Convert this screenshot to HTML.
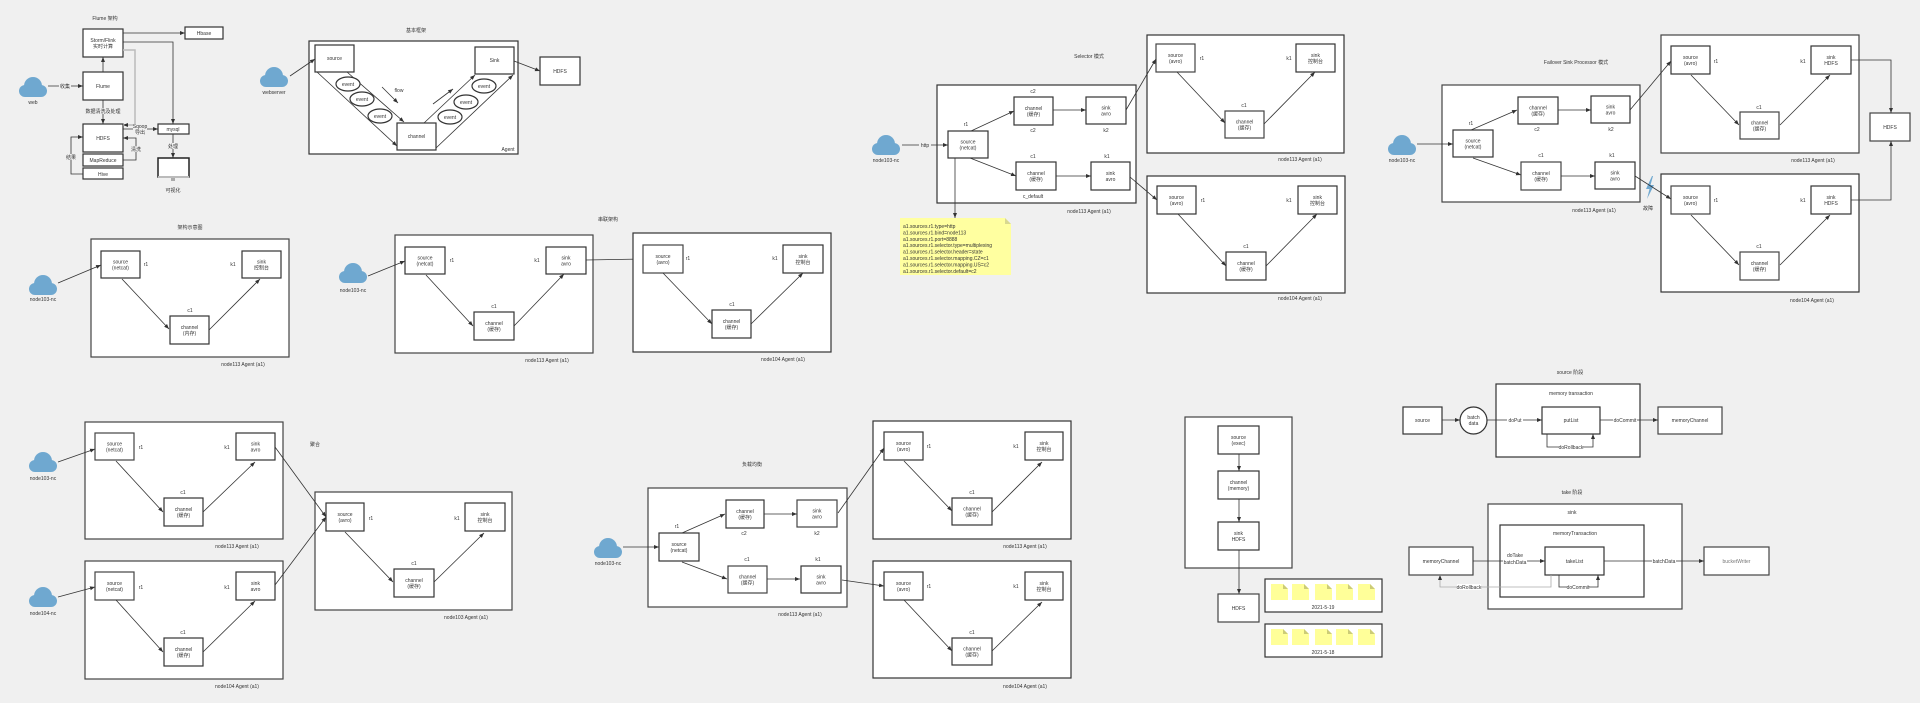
<!DOCTYPE html>
<html><head><meta charset="utf-8"><style>
html,body{margin:0;padding:0;background:#f0f0f0;width:1920px;height:703px;overflow:hidden}
svg{display:block}
text{font-family:"Liberation Sans","Noto Sans CJK SC",sans-serif;font-size:5px;fill:#333;text-anchor:middle}
.b{fill:#fff;stroke:#333;stroke-width:1.2}
.g{fill:#fff;stroke:#444;stroke-width:1.2}
.c{fill:none;stroke:#333;stroke-width:0.8}
.bg{fill:#f0f0f0}
.cl{fill:#6fa8d0}
.l{text-anchor:start}
</style></head><body>
<svg width="1920" height="703" viewBox="0 0 1920 703" xmlns="http://www.w3.org/2000/svg">
<defs>
<marker id="a" viewBox="0 0 10 10" refX="10" refY="5" markerWidth="5" markerHeight="5" markerUnits="userSpaceOnUse" orient="auto"><path d="M0,1 L10,5 L0,9 z" fill="#333"/></marker>
<g id="cloud"><circle cx="-8" cy="4" r="6"/><circle cx="8" cy="4" r="6"/><circle cx="0" cy="-1" r="9"/><rect x="-8" y="3" width="16" height="7"/></g>
<g id="doc"><path d="M0,0 h12 l5,5 v11 h-17 z" fill="#ffff99"/><path d="M12,0 l5,5 h-5 z" fill="#cccc77"/></g>
</defs>

<!-- ===== A: Flume 架构 ===== -->
<text x="105" y="20">Flume 架构</text>
<rect class="b" x="83" y="29" width="40" height="28"/><text x="103" y="42">Storm/Flink</text><text x="103" y="48">实时计算</text>
<rect class="b" x="185" y="27" width="38" height="12"/><text x="204" y="35">Hbase</text>
<path class="c" d="M123,33 H185" marker-end="url(#a)"/>
<rect class="b" x="83" y="72" width="40" height="28"/><text x="103" y="88">Flume</text>
<use href="#cloud" x="33" y="87" class="cl"/><text x="33" y="104">web</text>
<path class="c" d="M48,86 H83" marker-end="url(#a)"/><rect class="bg" x="59" y="83" width="12" height="6"/><text x="65" y="88">收集</text>
<path class="c" d="M103,72 V57" marker-end="url(#a)"/>
<rect class="b" x="83" y="124" width="40" height="28"/><text x="103" y="140">HDFS</text>
<path class="c" d="M103,100 V124" marker-end="url(#a)"/><rect class="bg" x="86" y="108" width="34" height="6"/><text x="103" y="113">数据清洗及处理</text>
<rect class="b" x="83" y="154" width="40" height="12"/><text x="103" y="162">MapReduce</text>
<rect class="b" x="83" y="168" width="40" height="11"/><text x="103" y="176">Hive</text>
<path class="c" d="M83,174 H71 V137 H83" marker-end="url(#a)"/><rect class="bg" x="65" y="154" width="12" height="6"/><text x="71" y="159">结果</text>
<path class="c" d="M123,160 H136 V138 H123" marker-end="url(#a)"/><rect class="bg" x="130" y="146" width="12" height="6"/><text x="136" y="151">清洗</text>
<path d="M123,50 H135 V125 H123" fill="none" stroke="#bbb" stroke-width="1.5" marker-end="url(#a)"/>
<path class="c" d="M123,42 H173 V124" marker-end="url(#a)"/>
<rect class="b" x="158" y="124" width="31" height="10"/><text x="173" y="131">mysql</text>
<path class="c" d="M123,129 H158" marker-end="url(#a)"/><rect class="bg" x="133" y="124" width="14" height="11"/><text x="140" y="128">Sqoop</text><text x="140" y="134">导出</text>
<path class="c" d="M173,134 V158" marker-end="url(#a)"/><rect class="bg" x="167" y="143" width="12" height="6"/><text x="173" y="148">处理</text>
<rect x="158" y="158" width="31" height="19" fill="#fff" stroke="#222" stroke-width="1.5"/><rect x="158" y="176" width="31" height="2" fill="#bbb"/><rect x="171" y="178" width="4" height="3" fill="#aaa"/>
<text x="173" y="192">可视化</text>

<!-- ===== B: 基本框架 ===== -->
<text x="416" y="32">基本框架</text>
<rect class="b" x="309" y="41" width="209" height="113"/><text x="508" y="151">Agent</text>
<rect class="b" x="315" y="45" width="39" height="27"/><text x="334.5" y="60">source</text>
<rect class="b" x="475" y="47" width="39" height="27"/><text x="494.5" y="62">Sink</text>
<rect class="b" x="397" y="123" width="39" height="27"/><text x="416.5" y="138">channel</text>
<rect class="b" x="540" y="57" width="40" height="28"/><text x="560" y="73">HDFS</text>
<use href="#cloud" x="274" y="77" class="cl"/><text x="274" y="94">webserver</text>
<path class="c" d="M290,76 L315,59" marker-end="url(#a)"/>
<path class="c" d="M317,72 L397,146" marker-end="url(#a)"/>
<path class="c" d="M347,72 L404,122" marker-end="url(#a)"/>
<ellipse class="b" cx="348" cy="84" rx="12" ry="7"/><text x="348" y="86">event</text>
<ellipse class="b" cx="362" cy="99" rx="12" ry="7"/><text x="362" y="101">event</text>
<ellipse class="b" cx="380" cy="116" rx="12" ry="7"/><text x="380" y="118">event</text>
<path class="c" d="M382,87 L398,103" marker-end="url(#a)"/><text x="399" y="92">flow</text>
<path class="c" d="M424,123 L475,75" marker-end="url(#a)"/>
<path class="c" d="M436,148 L513,75" marker-end="url(#a)"/>
<ellipse class="b" cx="484" cy="86" rx="12" ry="7"/><text x="484" y="88">event</text>
<ellipse class="b" cx="466" cy="102" rx="12" ry="7"/><text x="466" y="104">event</text>
<ellipse class="b" cx="450" cy="117" rx="12" ry="7"/><text x="450" y="119">event</text>
<path class="c" d="M433,104 L453,89" marker-end="url(#a)"/>
<path class="c" d="M514,61 L540,71" marker-end="url(#a)"/>

<!-- ===== C: 架构示意图 ===== -->
<text x="190" y="229">架构示意图</text>
<rect class="g" x="91" y="239" width="198" height="118"/>
<rect class="b" x="101" y="251" width="39" height="27"/><text x="120.5" y="263.5">source</text><text x="120.5" y="269.5">(netcat)</text>
<text x="146" y="266">r1</text>
<rect class="b" x="242" y="251" width="39" height="27"/><text x="261.5" y="263.5">sink</text><text x="261.5" y="269.5">控制台</text>
<text x="233" y="266">k1</text>
<rect class="b" x="170" y="316" width="39" height="28"/><text x="189.5" y="329">channel</text><text x="189.5" y="335">(内存)</text>
<text x="190" y="312">c1</text>
<use href="#cloud" x="43" y="285" class="cl"/><text x="43" y="301">node103-nc</text>
<path class="c" d="M58,283 L101,265" marker-end="url(#a)"/>
<path class="c" d="M122,279 L169,329" marker-end="url(#a)"/>
<path class="c" d="M209,330 L260,279" marker-end="url(#a)"/>
<text x="243" y="366">node113 Agent (a1)</text>

<!-- ===== D: 串联 ===== -->
<text x="608" y="221">串联架构</text>
<rect class="g" x="395" y="235" width="198" height="118"/>
<rect class="b" x="405" y="247" width="40" height="27"/><text x="425" y="259.5">source</text><text x="425" y="265.5">(netcat)</text>
<text x="452" y="262">r1</text>
<rect class="b" x="546" y="247" width="40" height="27"/><text x="566" y="259.5">sink</text><text x="566" y="265.5">avro</text>
<text x="537" y="262">k1</text>
<rect class="b" x="474" y="312" width="40" height="28"/><text x="494" y="325">channel</text><text x="494" y="331">(缓存)</text>
<text x="494" y="308">c1</text>
<use href="#cloud" x="353" y="273" class="cl"/><text x="353" y="292">node103-nc</text>
<path class="c" d="M368,276 L405,261" marker-end="url(#a)"/>
<path class="c" d="M426,275 L473,326" marker-end="url(#a)"/>
<path class="c" d="M514,326 L564,274" marker-end="url(#a)"/>
<path class="c" d="M586,260 L643,259" marker-end="url(#a)"/>
<text x="547" y="362">node113 Agent (a1)</text>
<rect class="b" x="633" y="233" width="198" height="119"/>
<rect class="g" x="643" y="245" width="40" height="28"/><text x="663" y="258">source</text><text x="663" y="264">(avro)</text>
<text x="688" y="260">r1</text>
<rect class="b" x="783" y="245" width="40" height="28"/><text x="803" y="258">sink</text><text x="803" y="264">控制台</text>
<text x="775" y="260">k1</text>
<rect class="b" x="712" y="310" width="39" height="28"/><text x="731.5" y="323">channel</text><text x="731.5" y="329">(缓存)</text>
<text x="732" y="306">c1</text>
<path class="c" d="M663,273 L712,324" marker-end="url(#a)"/>
<path class="c" d="M751,324 L803,273" marker-end="url(#a)"/>
<text x="783" y="361">node104 Agent (a1)</text>

<!-- ===== E: Selector ===== -->
<text x="1089" y="58">Selector 模式</text>
<rect class="b" x="937" y="85" width="199" height="118"/>
<rect class="b" x="948" y="131" width="40" height="27"/><text x="968" y="143.5">source</text><text x="968" y="149.5">(netcat)</text>
<text x="966" y="126">r1</text>
<rect class="b" x="1014" y="97" width="39" height="28"/><text x="1033.5" y="110">channel</text><text x="1033.5" y="116">(缓存)</text>
<text x="1033" y="93">c2</text><text x="1033" y="132">c2</text>
<rect class="b" x="1086" y="97" width="40" height="27"/><text x="1106" y="109.5">sink</text><text x="1106" y="115.5">avro</text>
<text x="1106" y="132">k2</text>
<rect class="b" x="1016" y="162" width="40" height="28"/><text x="1036" y="175">channel</text><text x="1036" y="181">(缓存)</text>
<text x="1033" y="158">c1</text><text x="1033" y="198">c_default</text>
<rect class="b" x="1091" y="162" width="39" height="28"/><text x="1110.5" y="175">sink</text><text x="1110.5" y="181">avro</text>
<text x="1107" y="158">k1</text>
<use href="#cloud" x="886" y="145" class="cl"/><text x="886" y="162">node103-nc</text>
<path class="c" d="M902,145 H948" marker-end="url(#a)"/><rect class="bg" x="919" y="142" width="12" height="6"/><text x="925" y="147">http</text>
<path class="c" d="M971,131 L1014,111" marker-end="url(#a)"/>
<path class="c" d="M1053,110 H1086" marker-end="url(#a)"/>
<path class="c" d="M970,158 L1016,176" marker-end="url(#a)"/>
<path class="c" d="M1056,176 H1091" marker-end="url(#a)"/>
<path class="c" d="M955,158 V218" marker-end="url(#a)"/>
<path d="M900,218 H1005 L1011,224 V275 H900 Z" fill="#ffffa0"/><path d="M1005,218 L1011,224 H1005 Z" fill="#d8d890"/>
<g style="font-size:4.6px">
<text class="l" x="903" y="228">a1.sources.r1.type=http</text>
<text class="l" x="903" y="234.4">a1.sources.r1.bind=node113</text>
<text class="l" x="903" y="240.8">a1.sources.r1.port=8888</text>
<text class="l" x="903" y="247.2">a1.sources.r1.selector.type=multiplexing</text>
<text class="l" x="903" y="253.6">a1.sources.r1.selector.header=state</text>
<text class="l" x="903" y="260">a1.sources.r1.selector.mapping.CZ=c1</text>
<text class="l" x="903" y="266.4">a1.sources.r1.selector.mapping.US=c2</text>
<text class="l" x="903" y="272.8">a1.sources.r1.selector.default=c2</text>
</g>
<text x="1089" y="213">node113 Agent (a1)</text>
<rect class="b" x="1147" y="35" width="197" height="118"/>
<rect class="g" x="1156" y="44" width="39" height="28"/><text x="1175.5" y="57">source</text><text x="1175.5" y="63">(avro)</text>
<text x="1202" y="60">r1</text>
<rect class="b" x="1296" y="44" width="39" height="28"/><text x="1315.5" y="57">sink</text><text x="1315.5" y="63">控制台</text>
<text x="1289" y="60">k1</text>
<rect class="g" x="1225" y="111" width="39" height="27"/><text x="1244.5" y="123.5">channel</text><text x="1244.5" y="129.5">(缓存)</text>
<text x="1244" y="107">c1</text>
<path class="c" d="M1177,72 L1225,123" marker-end="url(#a)"/>
<path class="c" d="M1264,124 L1315,72" marker-end="url(#a)"/>
<text x="1300" y="161">node113 Agent (a1)</text>
<path class="c" d="M1126,110 L1156,59" marker-end="url(#a)"/>
<rect class="b" x="1147" y="176" width="198" height="117"/>
<rect class="b" x="1157" y="186" width="39" height="28"/><text x="1176.5" y="199">source</text><text x="1176.5" y="205">(avro)</text>
<text x="1203" y="202">r1</text>
<rect class="b" x="1298" y="186" width="39" height="28"/><text x="1317.5" y="199">sink</text><text x="1317.5" y="205">控制台</text>
<text x="1289" y="202">k1</text>
<rect class="b" x="1226" y="252" width="40" height="28"/><text x="1246" y="265">channel</text><text x="1246" y="271">(缓存)</text>
<text x="1246" y="248">c1</text>
<path class="c" d="M1178,214 L1226,266" marker-end="url(#a)"/>
<path class="c" d="M1266,266 L1317,214" marker-end="url(#a)"/>
<text x="1300" y="300">node104 Agent (a1)</text>
<path class="c" d="M1130,177 L1157,200" marker-end="url(#a)"/>

<!-- ===== F: Failover ===== -->
<text x="1576" y="64">Failover Sink Processor 模式</text>
<rect class="g" x="1442" y="85" width="198" height="117"/>
<rect class="b" x="1453" y="130" width="40" height="27"/><text x="1473" y="142.5">source</text><text x="1473" y="148.5">(netcat)</text>
<text x="1471" y="125">r1</text>
<rect class="b" x="1518" y="97" width="40" height="27"/><text x="1538" y="109.5">channel</text><text x="1538" y="115.5">(缓存)</text>
<text x="1537" y="131">c2</text>
<rect class="b" x="1591" y="96" width="39" height="27"/><text x="1610.5" y="108.5">sink</text><text x="1610.5" y="114.5">avro</text>
<text x="1611" y="131">k2</text>
<rect class="g" x="1521" y="162" width="40" height="28"/><text x="1541" y="175">channel</text><text x="1541" y="181">(缓存)</text>
<text x="1541" y="157">c1</text>
<rect class="b" x="1595" y="162" width="40" height="27"/><text x="1615" y="174.5">sink</text><text x="1615" y="180.5">avro</text>
<text x="1612" y="157">k1</text>
<path class="c" d="M1471,130 L1517,110" marker-end="url(#a)"/>
<path class="c" d="M1558,110 L1591,110" marker-end="url(#a)"/>
<path class="c" d="M1473,158 L1521,175" marker-end="url(#a)"/>
<path class="c" d="M1561,176 L1595,176" marker-end="url(#a)"/>
<use href="#cloud" x="1402" y="145" class="cl"/><text x="1402" y="162">node103-nc</text>
<path class="c" d="M1417,144 H1453" marker-end="url(#a)"/>
<text x="1594" y="212">node113 Agent (a1)</text>
<path d="M1652,176 L1646,189 L1649.5,189 L1647,199 L1654,185 L1650.5,185 L1653,176 Z" fill="#6fa8d0"/>
<text x="1648" y="210">故障</text>
<rect class="g" x="1661" y="35" width="198" height="118"/>
<rect class="b" x="1671" y="46" width="39" height="28"/><text x="1690.5" y="59">source</text><text x="1690.5" y="65">(avro)</text>
<text x="1716" y="63">r1</text>
<rect class="b" x="1811" y="46" width="40" height="28"/><text x="1831" y="59">sink</text><text x="1831" y="65">HDFS</text>
<text x="1803" y="63">k1</text>
<rect class="g" x="1740" y="112" width="39" height="27"/><text x="1759.5" y="124.5">channel</text><text x="1759.5" y="130.5">(缓存)</text>
<text x="1759" y="109">c1</text>
<path class="c" d="M1691,75 L1739,125" marker-end="url(#a)"/>
<path class="c" d="M1780,125 L1830,75" marker-end="url(#a)"/>
<text x="1813" y="162">node113 Agent (a1)</text>
<rect class="b" x="1661" y="174" width="198" height="118"/>
<rect class="g" x="1671" y="186" width="39" height="28"/><text x="1690.5" y="199">source</text><text x="1690.5" y="205">(avro)</text>
<text x="1716" y="202">r1</text>
<rect class="b" x="1811" y="186" width="40" height="28"/><text x="1831" y="199">sink</text><text x="1831" y="205">HDFS</text>
<text x="1803" y="202">k1</text>
<rect class="g" x="1740" y="252" width="39" height="28"/><text x="1759.5" y="265">channel</text><text x="1759.5" y="271">(缓存)</text>
<text x="1759" y="248">c1</text>
<path class="c" d="M1691,215 L1739,265" marker-end="url(#a)"/>
<path class="c" d="M1780,265 L1830,215" marker-end="url(#a)"/>
<text x="1812" y="302">node104 Agent (a1)</text>
<rect class="g" x="1870" y="113" width="40" height="28"/><text x="1890" y="129">HDFS</text>
<path class="c" d="M1851,60 H1891 V113" marker-end="url(#a)"/>
<path class="c" d="M1851,200 H1891 V141" marker-end="url(#a)"/>
<path class="c" d="M1630,110 L1671,61" marker-end="url(#a)"/>
<path class="c" d="M1635,176 L1671,199" marker-end="url(#a)"/>

<!-- ===== G: 聚合 ===== -->
<rect class="g" x="85" y="422" width="198" height="117"/>
<rect class="g" x="95" y="433" width="39" height="27"/><text x="114.5" y="445.5">source</text><text x="114.5" y="451.5">(netcat)</text>
<text x="141" y="449">r1</text>
<rect class="b" x="236" y="433" width="39" height="27"/><text x="255.5" y="445.5">sink</text><text x="255.5" y="451.5">avro</text>
<text x="227" y="449">k1</text>
<rect class="b" x="164" y="498" width="39" height="28"/><text x="183.5" y="511">channel</text><text x="183.5" y="517">(缓存)</text>
<text x="183" y="494">c1</text>
<path class="c" d="M116,461 L163,512" marker-end="url(#a)"/>
<path class="c" d="M203,512 L255,462" marker-end="url(#a)"/>
<text x="237" y="548">node113 Agent (a1)</text>
<rect class="g" x="85" y="561" width="198" height="118"/>
<rect class="g" x="95" y="572" width="39" height="28"/><text x="114.5" y="585">source</text><text x="114.5" y="591">(netcat)</text>
<text x="141" y="589">r1</text>
<rect class="b" x="236" y="572" width="39" height="28"/><text x="255.5" y="585">sink</text><text x="255.5" y="591">avro</text>
<text x="227" y="589">k1</text>
<rect class="b" x="164" y="638" width="39" height="28"/><text x="183.5" y="651">channel</text><text x="183.5" y="657">(缓存)</text>
<text x="183" y="634">c1</text>
<path class="c" d="M116,600 L163,652" marker-end="url(#a)"/>
<path class="c" d="M203,652 L255,601" marker-end="url(#a)"/>
<text x="237" y="688">node104 Agent (a1)</text>
<use href="#cloud" x="43" y="462" class="cl"/><text x="43" y="480">node103-nc</text>
<use href="#cloud" x="43" y="597" class="cl"/><text x="43" y="615">node104-nc</text>
<path class="c" d="M58,462 L95,449" marker-end="url(#a)"/>
<path class="c" d="M58,597 L95,587" marker-end="url(#a)"/>
<text x="315" y="446">聚合</text>
<rect class="g" x="315" y="492" width="197" height="118"/>
<rect class="b" x="326" y="503" width="38" height="28"/><text x="345" y="516">source</text><text x="345" y="522">(avro)</text>
<text x="371" y="520">r1</text>
<rect class="b" x="465" y="503" width="40" height="28"/><text x="485" y="516">sink</text><text x="485" y="522">控制台</text>
<text x="457" y="520">k1</text>
<rect class="b" x="394" y="569" width="40" height="28"/><text x="414" y="582">channel</text><text x="414" y="588">(缓存)</text>
<text x="414" y="565">c1</text>
<path class="c" d="M345,532 L393,582" marker-end="url(#a)"/>
<path class="c" d="M434,582 L484,533" marker-end="url(#a)"/>
<text x="466" y="619">node103 Agent (a1)</text>
<path class="c" d="M275,447 L326,517" marker-end="url(#a)"/>
<path class="c" d="M275,585 L326,517" marker-end="url(#a)"/>

<!-- ===== H: 负载均衡 ===== -->
<text x="752" y="466">负载均衡</text>
<rect class="g" x="648" y="488" width="199" height="119"/>
<rect class="b" x="659" y="533" width="40" height="28"/><text x="679" y="546">source</text><text x="679" y="552">(netcat)</text>
<text x="677" y="528">r1</text>
<rect class="b" x="726" y="500" width="38" height="28"/><text x="745" y="513">channel</text><text x="745" y="519">(缓存)</text>
<text x="744" y="535">c2</text>
<rect class="g" x="797" y="500" width="40" height="27"/><text x="817" y="512.5">sink</text><text x="817" y="518.5">avro</text>
<text x="817" y="535">k2</text>
<rect class="g" x="728" y="566" width="39" height="27"/><text x="747.5" y="578.5">channel</text><text x="747.5" y="584.5">(缓存)</text>
<text x="747" y="561">c1</text>
<rect class="b" x="801" y="566" width="40" height="27"/><text x="821" y="578.5">sink</text><text x="821" y="584.5">avro</text>
<text x="818" y="561">k1</text>
<path class="c" d="M682,533 L725,514" marker-end="url(#a)"/>
<path class="c" d="M764,514 L797,514" marker-end="url(#a)"/>
<path class="c" d="M682,562 L727,579" marker-end="url(#a)"/>
<path class="c" d="M767,579 L800,579" marker-end="url(#a)"/>
<use href="#cloud" x="608" y="548" class="cl"/><text x="608" y="565">node103-nc</text>
<path class="c" d="M623,547 H659" marker-end="url(#a)"/>
<text x="800" y="616">node113 Agent (a1)</text>
<rect class="b" x="873" y="421" width="198" height="118"/>
<rect class="b" x="884" y="432" width="39" height="28"/><text x="903.5" y="445">source</text><text x="903.5" y="451">(avro)</text>
<text x="929" y="448">r1</text>
<rect class="b" x="1025" y="432" width="38" height="28"/><text x="1044" y="445">sink</text><text x="1044" y="451">控制台</text>
<text x="1016" y="448">k1</text>
<rect class="b" x="952" y="498" width="40" height="27"/><text x="972" y="510.5">channel</text><text x="972" y="516.5">(缓存)</text>
<text x="972" y="494">c1</text>
<path class="c" d="M904,461 L952,511" marker-end="url(#a)"/>
<path class="c" d="M992,512 L1042,462" marker-end="url(#a)"/>
<text x="1025" y="548">node113 Agent (a1)</text>
<rect class="b" x="873" y="561" width="198" height="117"/>
<rect class="b" x="884" y="572" width="39" height="28"/><text x="903.5" y="585">source</text><text x="903.5" y="591">(avro)</text>
<text x="929" y="588">r1</text>
<rect class="b" x="1025" y="572" width="38" height="28"/><text x="1044" y="585">sink</text><text x="1044" y="591">控制台</text>
<text x="1016" y="588">k1</text>
<rect class="b" x="952" y="638" width="40" height="27"/><text x="972" y="650.5">channel</text><text x="972" y="656.5">(缓存)</text>
<text x="972" y="634">c1</text>
<path class="c" d="M904,600 L952,651" marker-end="url(#a)"/>
<path class="c" d="M992,651 L1042,602" marker-end="url(#a)"/>
<text x="1025" y="688">node104 Agent (a1)</text>
<path class="c" d="M838,513 L884,448" marker-end="url(#a)"/>
<path class="c" d="M842,580 L884,586" marker-end="url(#a)"/>

<!-- ===== I: HDFS 落盘 ===== -->
<rect class="g" x="1185" y="417" width="107" height="151"/>
<rect class="b" x="1218" y="426" width="41" height="28"/><text x="1238.5" y="439">source</text><text x="1238.5" y="445">(exec)</text>
<rect class="b" x="1218" y="471" width="41" height="28"/><text x="1238.5" y="484">channel</text><text x="1238.5" y="490">(memory)</text>
<rect class="b" x="1218" y="522" width="41" height="28"/><text x="1238.5" y="535">sink</text><text x="1238.5" y="541">HDFS</text>
<path class="c" d="M1239,454 V471" marker-end="url(#a)"/>
<path class="c" d="M1239,499 V522" marker-end="url(#a)"/>
<path class="c" d="M1239,550 V594" marker-end="url(#a)"/>
<rect class="g" x="1218" y="594" width="41" height="28"/><text x="1238.5" y="610">HDFS</text>
<rect class="b" x="1265" y="579" width="117" height="33"/>
<use href="#doc" x="1271" y="584"/><use href="#doc" x="1292" y="584"/><use href="#doc" x="1315" y="584"/><use href="#doc" x="1336" y="584"/><use href="#doc" x="1358" y="584"/>
<text x="1323" y="609">2021-5-19</text>
<rect class="b" x="1265" y="624" width="117" height="33"/>
<use href="#doc" x="1271" y="629"/><use href="#doc" x="1292" y="629"/><use href="#doc" x="1315" y="629"/><use href="#doc" x="1336" y="629"/><use href="#doc" x="1358" y="629"/>
<text x="1323" y="654">2021-5-18</text>

<!-- ===== J: source 阶段 ===== -->
<text x="1570" y="374">source 阶段</text>
<rect class="b" x="1496" y="384" width="144" height="73"/><text x="1571" y="395">memory transaction</text>
<rect class="b" x="1403" y="407" width="39" height="27"/><text x="1422.5" y="422">source</text>
<ellipse class="b" cx="1473.5" cy="420.5" rx="13.5" ry="13.5"/><text x="1473.5" y="419">batch</text><text x="1473.5" y="425">data</text>
<rect class="b" x="1542" y="407" width="58" height="27"/><text x="1571" y="422">putList</text>
<rect class="g" x="1658" y="407" width="64" height="27"/><text x="1690" y="422">memoryChannel</text>
<path class="c" d="M1442,420 H1460" marker-end="url(#a)"/>
<path class="c" d="M1487,420 H1542" marker-end="url(#a)"/><rect x="1507" y="417" width="16" height="6" fill="#fff"/><text x="1515" y="422">doPut</text>
<path class="c" d="M1600,420 H1658" marker-end="url(#a)"/><rect x="1613" y="417" width="24" height="6" fill="#fff"/><text x="1625" y="422">doCommit</text>
<path class="c" d="M1547,434 V447 H1593 V434" marker-end="url(#a)"/><rect x="1559" y="444" width="24" height="6" fill="#fff"/><text x="1571" y="449">doRollback</text>

<!-- ===== K: take 阶段 ===== -->
<text x="1572" y="494">take 阶段</text>
<rect class="g" x="1488" y="504" width="194" height="105"/><text x="1572" y="514">sink</text>
<rect class="b" x="1500" y="525" width="144" height="72"/><text x="1575" y="535">memoryTransaction</text>
<rect class="g" x="1409" y="547" width="64" height="28"/><text x="1441" y="563">memoryChannel</text>
<rect class="b" x="1545" y="547" width="59" height="28"/><text x="1574.5" y="563">takeList</text>
<rect class="g" x="1704" y="547" width="65" height="28"/><text x="1736.5" y="563" style="fill:#777">bucketWriter</text>
<path class="c" d="M1473,561 H1545" marker-end="url(#a)"/><rect x="1503" y="552" width="24" height="13" fill="#fff"/><text x="1515" y="557">doTake</text><text x="1515" y="564">batchData</text>
<path class="c" d="M1604,561 H1704" marker-end="url(#a)"/><rect x="1652" y="558" width="24" height="6" fill="#fff"/><text x="1664" y="563">batchData</text>
<path d="M1551,575 V587 H1440 V575" fill="none" stroke="#aaa" stroke-width="0.8" marker-end="url(#a)"/><rect x="1457" y="584" width="24" height="6" fill="#fff"/><text x="1469" y="589">doRollback</text>
<path class="c" d="M1559,575 V587 H1598 V575" marker-end="url(#a)"/><rect x="1567" y="584" width="22" height="6" fill="#fff"/><text x="1578" y="589">doCommit</text>
</svg>
</body></html>
